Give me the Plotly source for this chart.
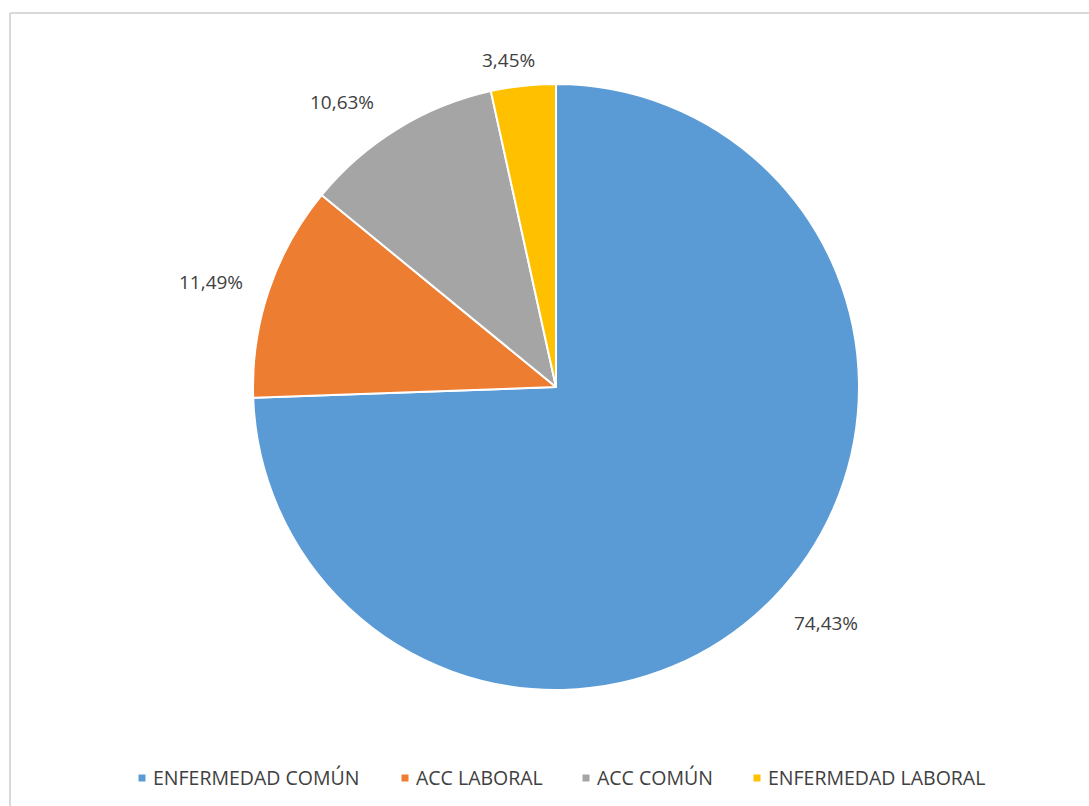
import math
import plotly.graph_objects as go

# Distribution of absence causes (percent)
categories = ["ENFERMEDAD COMÚN", "ACC LABORAL", "ACC COMÚN", "ENFERMEDAD LABORAL"]
values = [74.43, 11.49, 10.63, 3.45]
colors = ["#5B9BD5", "#ED7D31", "#A5A5A5", "#FFC000"]

W, H = 1089, 806
FONT = "Open Sans"
TEXT_COLOR = "#404040"

# Pie placement in pixels (center and radius)
CX, CY, R = 556, 387, 303

# Data-label placement: angular nudge (degrees) from each slice's mid angle
# and distance of the label centre from the pie centre (pixels)
label_nudge_deg = [-2.8, -1.7, -5.3, -2.0]
label_dist = [359, 361, 356, 330]


def px(x):
    return x / W


def py(y):
    return 1 - y / H


fig = go.Figure(
    go.Pie(
        labels=categories,
        values=values,
        sort=False,
        direction="clockwise",
        rotation=0,
        marker=dict(colors=colors, line=dict(color="white", width=2)),
        textinfo="none",
        hoverinfo="label+percent",
        showlegend=False,
        domain=dict(x=[px(CX - R), px(CX + R)], y=[py(CY + R), py(CY - R)]),
    )
)

annotations = []

# Percentage labels outside each slice
total = sum(values)
cum = 0.0
for v, nudge, dist in zip(values, label_nudge_deg, label_dist):
    mid = (cum + v / 2) / total * 360 + nudge
    cum += v
    a = math.radians(mid)
    ax = CX + dist * math.sin(a)
    ay = CY - dist * math.cos(a)
    label = f"{v:.2f}%".replace(".", ",")
    annotations.append(
        dict(
            x=px(ax), y=py(ay), xref="paper", yref="paper",
            text=label, showarrow=False, xanchor="center", yanchor="middle",
            font=dict(family=FONT, size=19, color=TEXT_COLOR),
        )
    )

# Legend along the bottom: coloured squares followed by names
legend_x = [142, 405, 586, 757]
LEG_Y = 778
SQ = 7
shapes = []
for name, col, lx in zip(categories, colors, legend_x):
    shapes.append(
        dict(
            type="rect", xref="paper", yref="paper",
            x0=px(lx - SQ / 2), x1=px(lx + SQ / 2),
            y0=py(LEG_Y + SQ / 2), y1=py(LEG_Y - SQ / 2),
            fillcolor=col, line=dict(width=0),
        )
    )
    annotations.append(
        dict(
            x=px(lx + 9), y=py(LEG_Y - 1), xref="paper", yref="paper",
            text=name, showarrow=False, xanchor="left", yanchor="middle",
            font=dict(family=FONT, size=19.5, color=TEXT_COLOR),
        )
    )

# Chart frame (top and left edges)
shapes.append(dict(type="line", xref="paper", yref="paper",
                   x0=px(10), x1=px(W), y0=py(13), y1=py(13),
                   line=dict(color="#D9D9D9", width=2)))
shapes.append(dict(type="line", xref="paper", yref="paper",
                   x0=px(10), x1=px(10), y0=py(13), y1=py(H),
                   line=dict(color="#D9D9D9", width=2)))

fig.update_layout(
    width=W,
    height=H,
    margin=dict(l=0, r=0, t=0, b=0),
    paper_bgcolor="white",
    plot_bgcolor="white",
    annotations=annotations,
    shapes=shapes,
    font=dict(family=FONT, color=TEXT_COLOR),
)

fig.write_html("out.html")
